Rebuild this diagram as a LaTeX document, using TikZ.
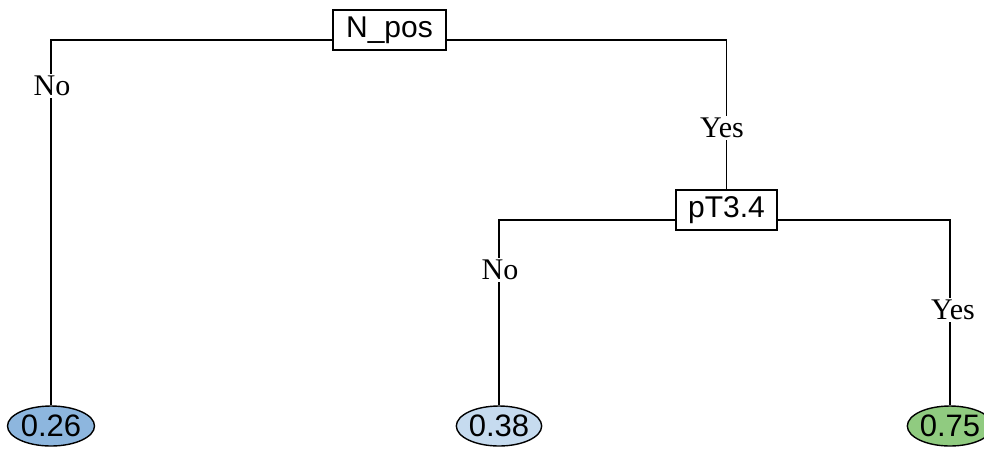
\documentclass[tikz,border=0pt]{standalone}
\usepackage{fontspec}
\setmainfont{Liberation Serif}
\newfontfamily\boxfont{Liberation Sans}
\usetikzlibrary{shapes.geometric,calc}
\definecolor{leafA}{HTML}{8DB6DE}
\definecolor{leafB}{HTML}{C6DBEF}
\definecolor{leafC}{HTML}{90CB80}
\tikzset{
  split/.style={draw, line width=1.4pt, fill=white, font=\boxfont\fontsize{30}{32}\selectfont,
    minimum height=40pt, inner sep=0pt},
  leaf/.style={draw, ellipse, line width=1.4pt, font=\boxfont\fontsize{31}{33}\selectfont,
    minimum height=40pt, inner sep=0pt},
  branch/.style={line width=1.4pt},
  answer/.style={fill=white, inner sep=2pt, font=\fontsize{30}{32}\selectfont}
}
\begin{document}
\begin{tikzpicture}[x=1pt,y=1pt]
\clip (0,0) rectangle (984,-448);
\useasboundingbox (0,0) rectangle (984,-448);
% split nodes
\node[split, minimum width=113pt] (npos) at (389.5,-30) {N\_pos};
\node[split, minimum width=101pt] (pt) at (726.5,-210) {pT3.4};
% leaves
\node[leaf, fill=leafA, minimum width=87pt] (l1) at (51,-426) {0.26};
\node[leaf, fill=leafB, minimum width=82pt] (l2) at (499,-426) {0.38};
\node[leaf, fill=leafC, minimum width=82pt] (l3) at (950,-426) {0.75};
% branch points on the split boxes
\coordinate (nposL) at ($(npos.west)+(0,-10)$);
\coordinate (nposR) at ($(npos.east)+(0,-10)$);
\coordinate (ptL) at ($(pt.west)+(0,-10)$);
\coordinate (ptR) at ($(pt.east)+(0,-10)$);
% connectors
\draw[branch] (nposL) -| (l1.north);
\draw[branch] (nposR) -| (pt.north);
\draw[branch] (ptL) -| (l2.north);
\draw[branch] (ptR) -| (l3.north);
% branch labels
\node[answer] (a1) at (52,-86) {No};
\node[answer] (a2) at (722,-128) {Yes};
\node[answer] (a3) at (500,-270) {No};
\node[answer] (a4) at (953,-310) {Yes};
\end{tikzpicture}
\end{document}
